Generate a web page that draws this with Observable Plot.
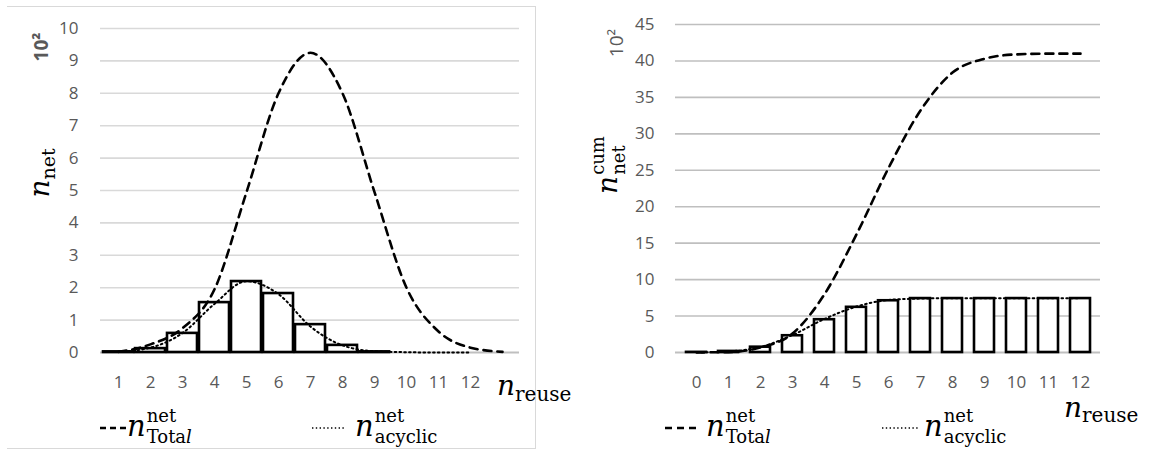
<!DOCTYPE html>
<html><head><meta charset="utf-8">
<script src="https://cdn.jsdelivr.net/npm/d3@7"></script>
<script src="https://cdn.jsdelivr.net/npm/@observablehq/plot@0.6"></script>
<style>
body{margin:0;background:#fff}
#wrap{position:relative;width:1153px;height:449px;overflow:hidden;background:#fff}
#wrap svg.plot{position:absolute;top:0}
.frame{position:absolute;left:7px;top:6px;width:528px;height:441px;border-top:1.5px solid #d9d9d9;border-right:1.5px solid #d9d9d9;border-bottom:1.5px solid #d9d9d9}
.m{position:absolute;font-family:"DejaVu Serif",serif;color:#000;white-space:nowrap;line-height:1}
.m .n{font-style:italic}
.stack{display:inline-flex;flex-direction:column;vertical-align:middle}
.stack span{display:block;line-height:1.17}
.flex{display:flex;align-items:center}
.rot{position:absolute;transform:translate(-50%,-50%) rotate(-90deg);white-space:nowrap}
.g{font-family:"Open Sans",sans-serif;color:#595959}
svg.sw{position:absolute}
</style></head><body><div id="wrap"></div>
<script>
// ---------- data ----------
const leftCats = [1,2,3,4,5,6,7,8,9,10,11,12,13];
const leftTickLabels = ["1","2","3","4","5","6","7","8","9","10","11","12",""];
const leftBars    = [0.02,0.12,0.59,1.54,2.19,1.82,0.86,0.22,0.02,0,0,0,0];
const leftTotal   = [0.02,0.25,0.75,1.95,4.95,8.0,9.25,8.0,4.95,2.0,0.65,0.15,0.02];
const leftAcyclic = [0.02,0.15,0.6,1.5,2.2,1.8,0.8,0.22,0.04,0.01,0,0,null];
const leftYTicks  = [0,1,2,3,4,5,6,7,8,9,10];

const rightCats = [0,1,2,3,4,5,6,7,8,9,10,11,12];
const rightTickLabels = ["0","1","2","3","4","5","6","7","8","9","10","11","12"];
const rightBars    = [0.02,0.15,0.73,2.3,4.5,6.2,7.1,7.4,7.4,7.4,7.4,7.4,7.4];
const rightTotal   = [0.02,0.05,0.7,2.6,8.0,16.2,25.3,33.2,38.4,40.3,40.9,41.0,41.0];
const rightAcyclic = [0.02,0.15,0.75,2.4,4.6,6.3,7.2,7.4,7.45,7.45,7.45,7.45,7.45];
const rightYTicks  = [0,5,10,15,20,25,30,35,40,45];

const leftTable = leftCats.map((c,i)=>({c, bar:leftBars[i], total:leftTotal[i], acyclic:leftAcyclic[i]}));
const rightTable = rightCats.map((c,i)=>({c, bar:rightBars[i], total:rightTotal[i], acyclic:rightAcyclic[i]}));

const wrap = document.getElementById("wrap");
const tickFont = "17px 'Open Sans', sans-serif";

function panel(table, cats, labels, yTicks, yMax, o) {
  const p = Plot.plot({
    width: o.width, height: 449,
    marginLeft: o.ml, marginRight: o.mr, marginTop: o.mt, marginBottom: 97,
    style: {font: tickFont, color: "#595959", background: "transparent", overflow: "visible"},
    x: {type: "band", domain: cats, paddingInner: o.pi, paddingOuter: o.pi/2, axis: null},
    y: {domain: [0, yMax], axis: null},
    marks: [
      Plot.gridY(yTicks.filter(d=>d>0), {stroke: o.grid, strokeOpacity: 1, strokeWidth: 1.6}),
      Plot.ruleY([0], {stroke: "#bfbfbf", strokeWidth: 2.2}),
      Plot.axisY({ticks: yTicks, tickSize: 0, tickPadding: o.tp, fill: "#595959", fontSize: 17, label: null}),
      Plot.axisX({ticks: cats, tickFormat: (d)=>labels[cats.indexOf(d)], tickSize: 0, tickPadding: 23, fill: "#595959", fontSize: 17, label: null}),
      Plot.barY(table.filter(d=>d.bar>0), {x:"c", y:"bar", fill:"white", stroke:"black", strokeWidth:2.6}),
      Plot.line(table, {x:"c", y:"acyclic", curve:"monotone-x", stroke:"black", strokeWidth:2, strokeDasharray:"1.6,3.2", strokeLinecap:"round"}),
      Plot.line(table, {x:"c", y:"total", curve:"monotone-x", stroke:"black", strokeWidth:2.6, strokeDasharray:"8,6"})
    ]
  });
  p.classList.add("plot");
  p.style.left = o.left + "px";
  wrap.appendChild(p);
}

const fr = document.createElement("div"); fr.className = "frame"; wrap.appendChild(fr);

panel(leftTable, leftCats, leftTickLabels, leftYTicks, 10,
  {width: 540, left: 0, ml: 100, mr: 21, mt: 28, pi: 0.07, tp: 22, grid: "#d9d9d9"});
panel(rightTable, rightCats, rightTickLabels, rightYTicks, 45,
  {width: 613, left: 540, ml: 135, mr: 53, mt: 24, pi: 0.39, tp: 21, grid: "#bfbfbf"});

// ---------- text helpers ----------
function add(html, style, cls) {
  const d = document.createElement("div");
  d.className = cls; d.innerHTML = html;
  Object.assign(d.style, style);
  wrap.appendChild(d);
  return d;
}
function stackHTML(sup, sub, nSize, sSize) {
  return `<div class="flex"><span class="n" style="font-size:${nSize}px">n</span><span class="stack" style="font-size:${sSize}px;margin-left:1px"><span>${sup}</span><span>${sub}</span></span></div>`;
}
function subHTML(sub, nSize, sSize, drop) {
  return `<span class="n" style="font-size:${nSize}px">n</span><span style="font-size:${sSize}px;position:relative;top:${drop}px">${sub}</span>`;
}
function swatch(x, y, w, dash, sw) {
  const s = document.createElementNS("http://www.w3.org/2000/svg","svg");
  s.setAttribute("class","sw"); s.setAttribute("width", w); s.setAttribute("height", 8);
  s.style.left = x + "px"; s.style.top = (y-4) + "px";
  s.innerHTML = `<line x1="0" y1="4" x2="${w}" y2="4" stroke="black" stroke-width="${sw}" stroke-dasharray="${dash}"/>`;
  wrap.appendChild(s);
}

// y-axis titles
add("10²", {left:"41px", top:"47px", fontSize:"19px", fontWeight:"bold"}, "rot g");
add(subHTML("net", 28, 19, 6), {left:"40px", top:"173px"}, "rot m");
add("10²", {left:"616px", top:"43px", fontSize:"19px"}, "rot g");
add(stackHTML("cum", "net", 28, 18), {left:"608px", top:"165px"}, "rot m");

// x-axis titles
add(subHTML("reuse", 28, 20, 6), {left:"497px", top:"372px"}, "m");
add(subHTML("reuse", 28, 20, 5), {left:"1064px", top:"394px"}, "m");

// legends
swatch(100, 428, 26, "6,4", 2.6);
add(stackHTML("net", "Tota<i>l</i>", 29, 18), {left:"127px", top:"405px"}, "m");
swatch(312, 428, 34, "1.4,2.4", 1.5);
add(stackHTML("net", "acyclic", 29, 18), {left:"355px", top:"405px"}, "m");

swatch(665, 428, 31, "7,5", 2.6);
add(stackHTML("net", "Tota<i>l</i>", 29, 18), {left:"706px", top:"405px"}, "m");
swatch(882, 428, 36, "1.4,2.4", 1.5);
add(stackHTML("net", "acyclic", 29, 18), {left:"924px", top:"405px"}, "m");
</script></body></html>
